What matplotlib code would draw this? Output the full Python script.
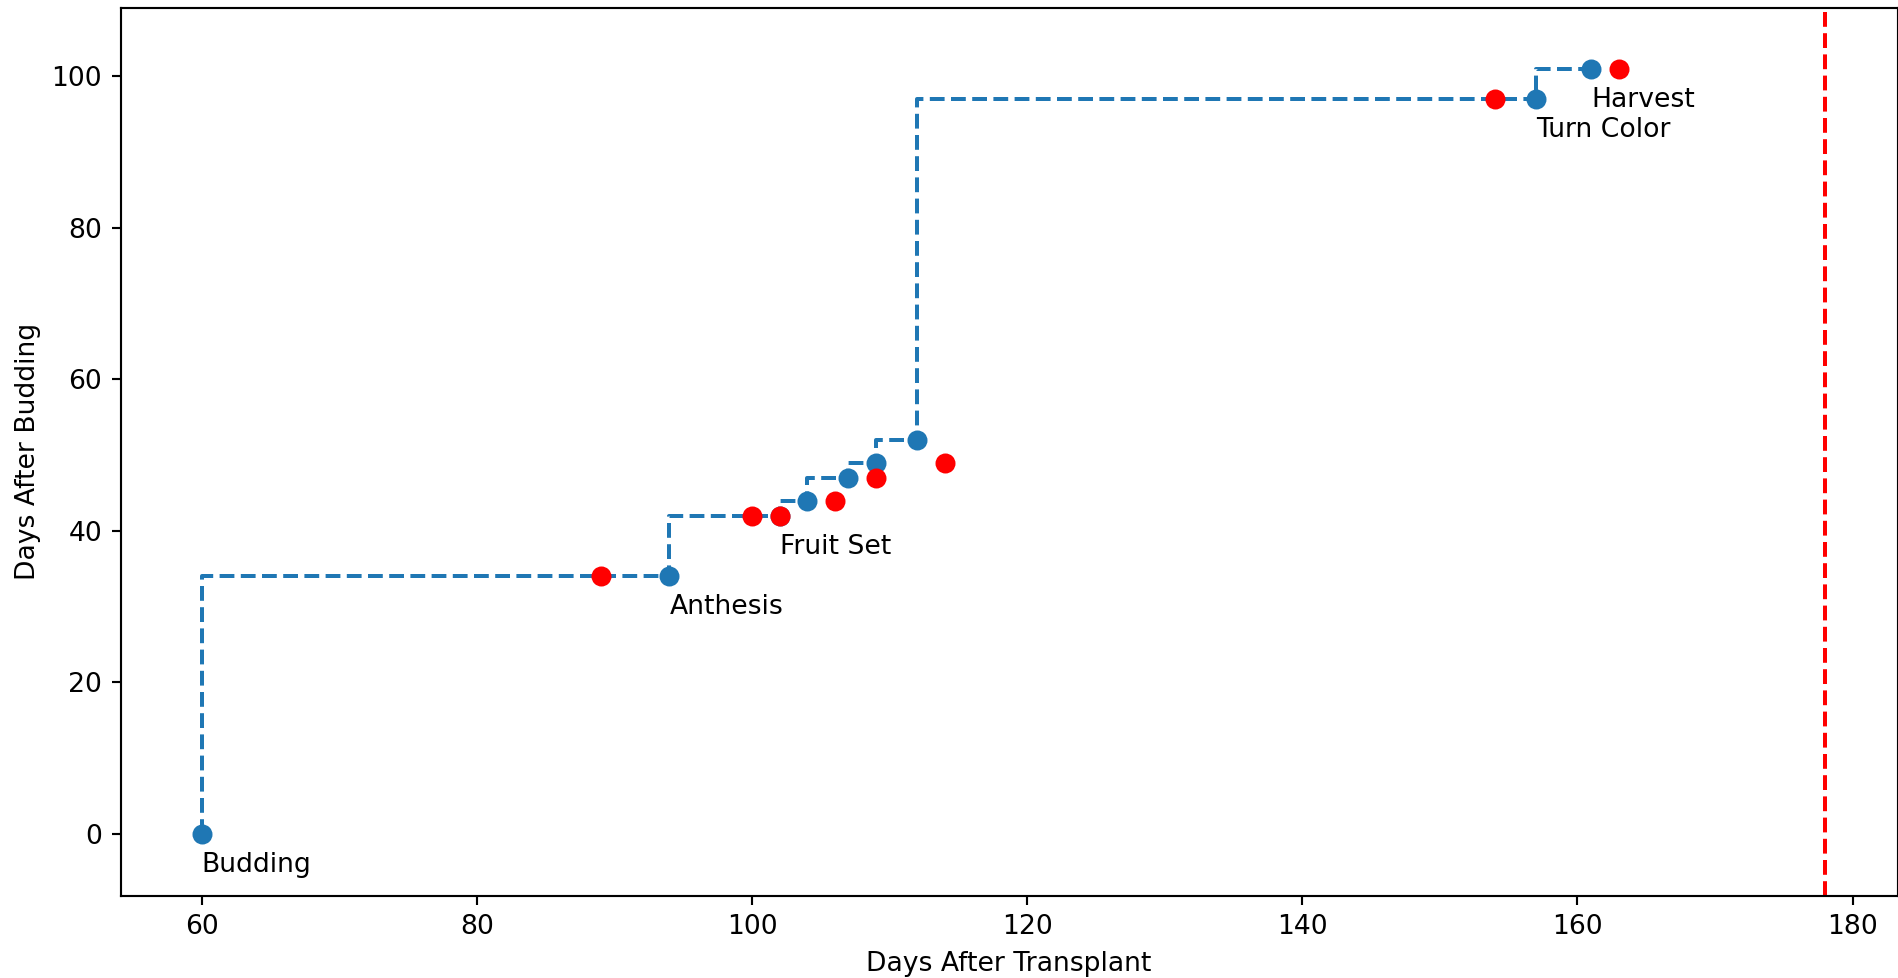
import matplotlib
matplotlib.use("Agg")
import matplotlib.pyplot as plt

# observed stages (blue) and predicted (red)
stage_x = [60, 94, 102, 104, 107, 109, 112, 157, 161]
stage_y = [0, 34, 42, 44, 47, 49, 52, 97, 101]
pred_x = [89, 100, 102, 106, 109, 114, 154, 163]
pred_y = [34, 42, 42, 44, 47, 49, 97, 101]

label_names = ["Budding", "Anthesis", "Fruit Set", "Turn Color", "Harvest"]
label_x = [60, 94, 102, 157, 161]
label_y = [0, 34, 42, 97, 101]

today = 178


def draw_chart():
    fig = plt.figure(figsize=(1898 / 192, 978 / 192), dpi=192)
    ax = fig.add_axes([0.0636, 0.0842, 0.9362, 0.9076])

    ax.step(stage_x, stage_y, 'o--', where='pre', color='#1f77b4', ms=6.5)
    ax.plot(pred_x, pred_y, 'o', color='red', linestyle='none', ms=6.5)
    ax.axvline(today, color='red', linestyle='--')

    for name, x, y in zip(label_names, label_x, label_y):
        ax.text(x, y - 5, name)

    ax.set_xlim(54.11, 183.27)
    ax.set_ylim(-8.14, 109.0)
    ax.set_xlabel("Days After Transplant")
    ax.set_ylabel("Days After Budding")

    fig.savefig('out.png')


if __name__ == '__main__':
    draw_chart()
